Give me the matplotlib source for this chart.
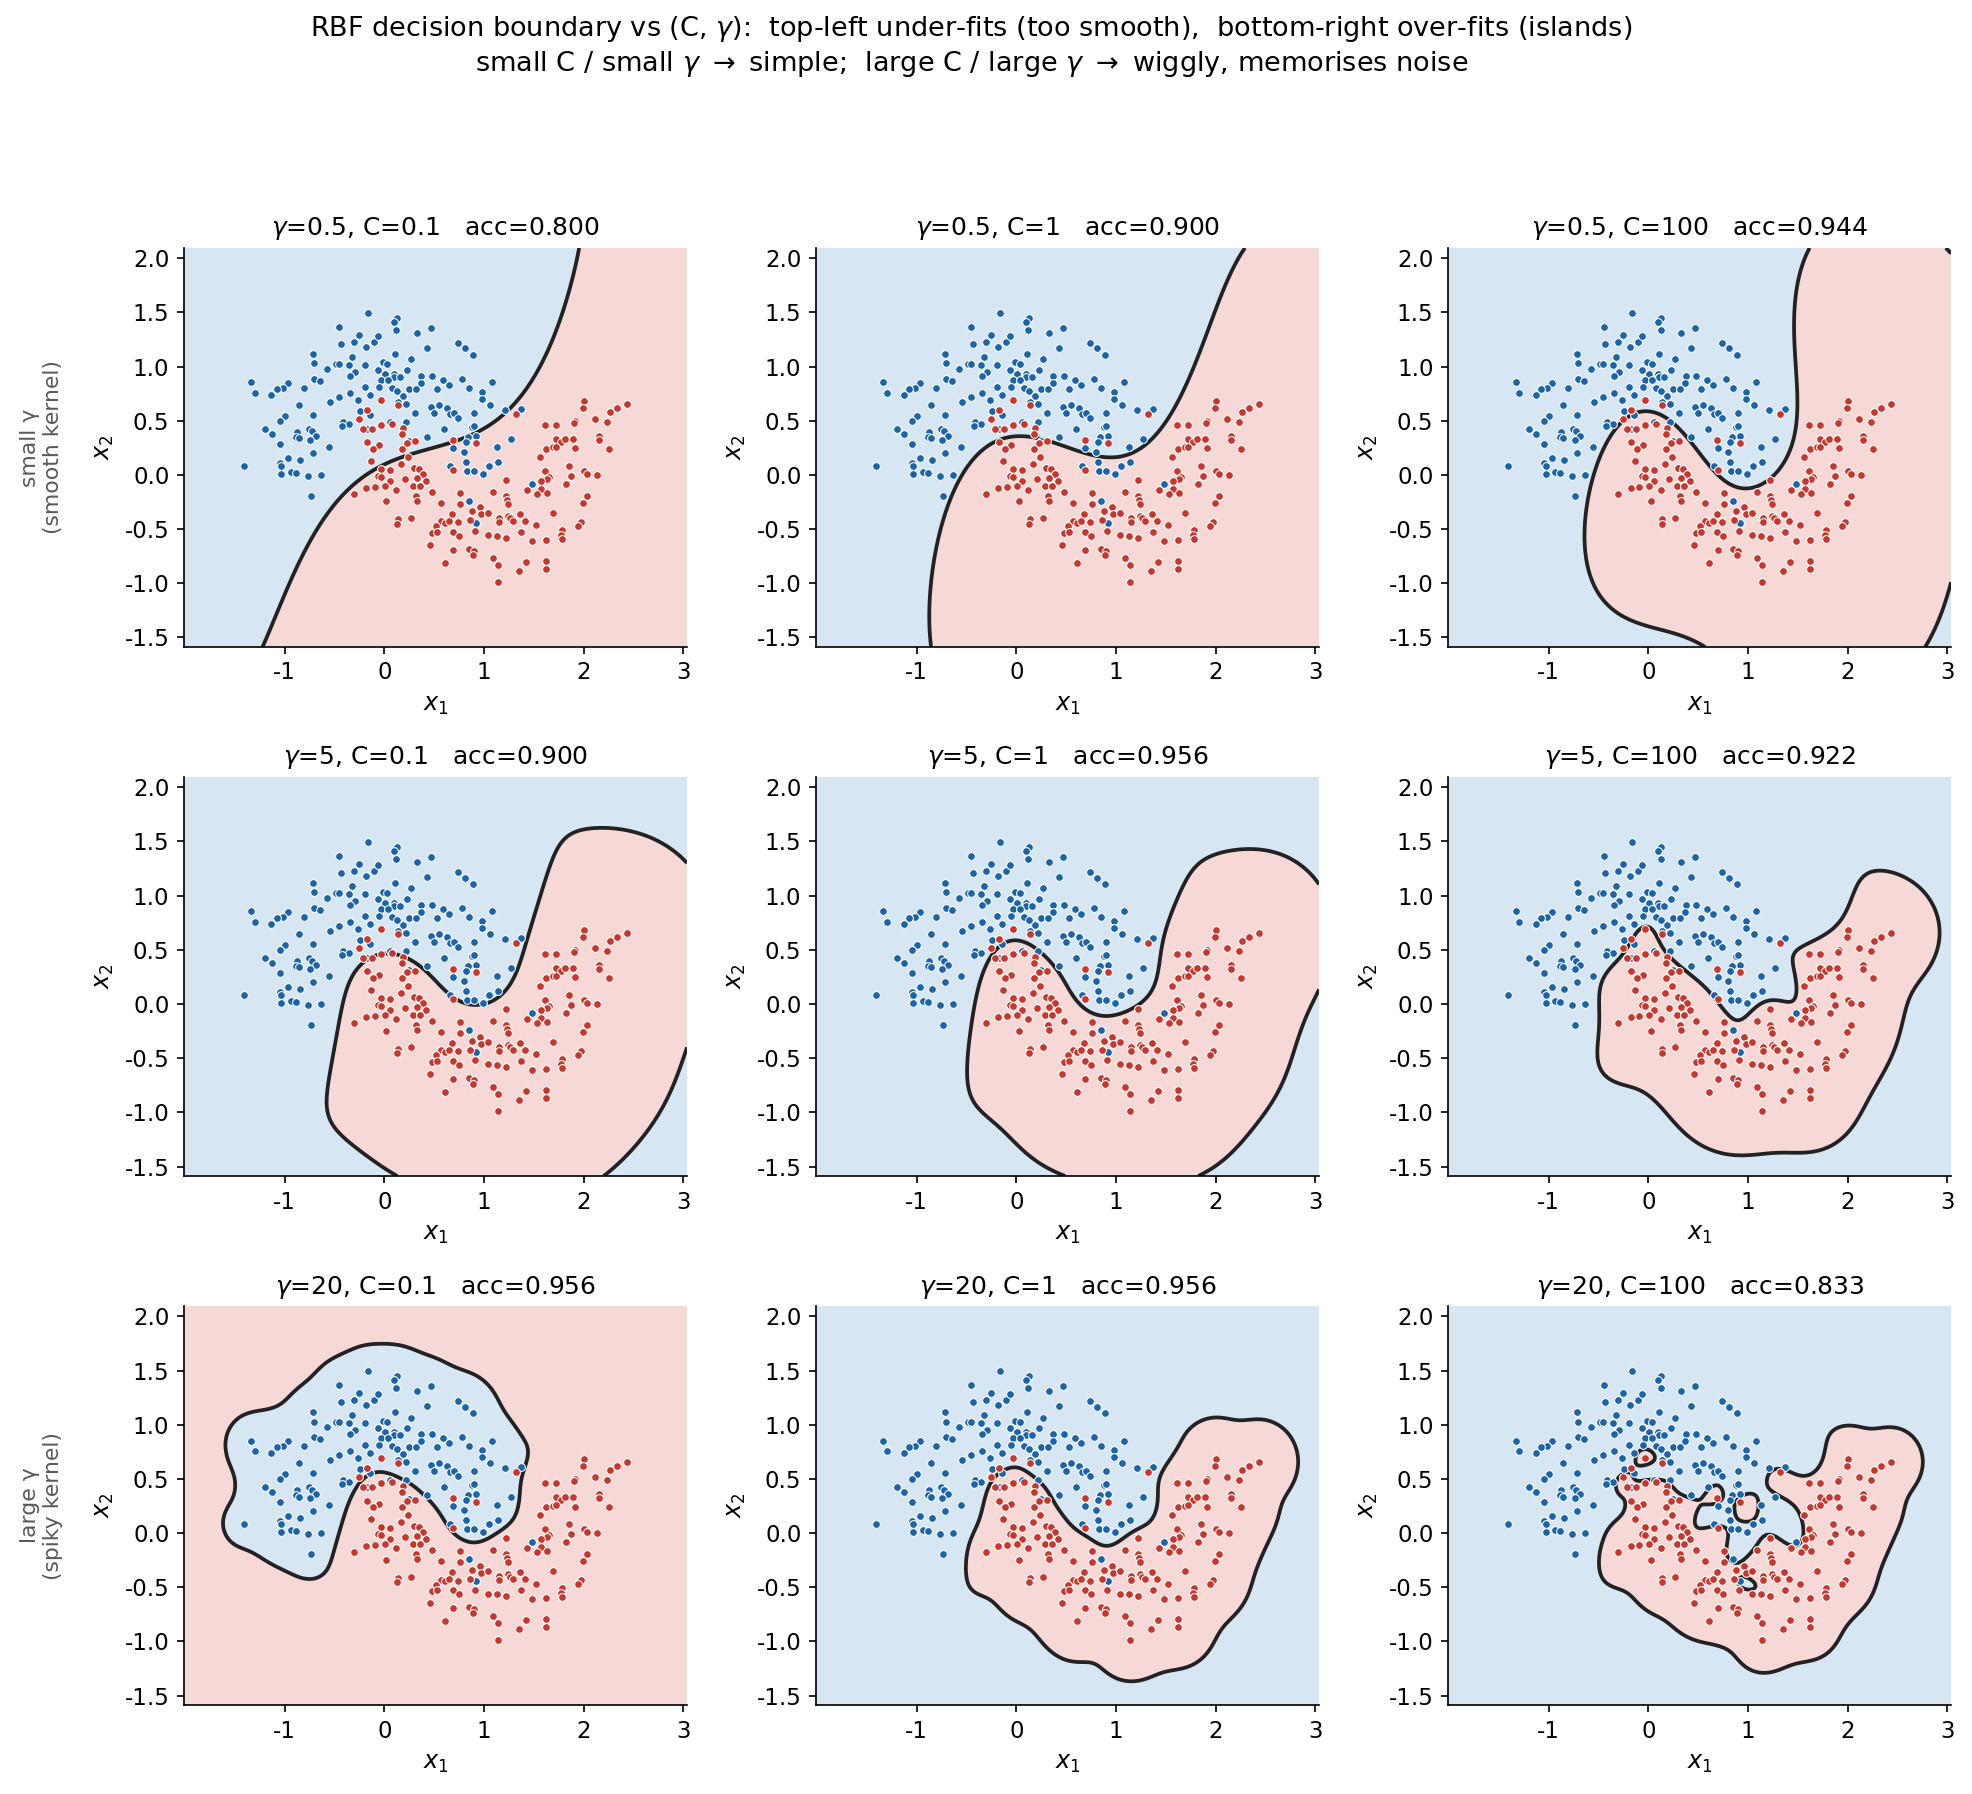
import numpy as np
import matplotlib
matplotlib.use('Agg')
import matplotlib.pyplot as plt

plt.rcParams['axes.unicode_minus'] = False

# ─────────────────────────────────────────
# DATA (two moons)
# ─────────────────────────────────────────
blue_x1 = [-0.164, -0.451, -0.251, -0.301, -0.104, -0.434, -0.187, -0.715, -0.327, -0.709,
           -0.485, -0.455, -0.351, -0.194, -0.575, -0.291, -0.341, -0.705, -0.645, -1.334,
           -0.963, -1.013, -1.080, -1.297, -0.809, -1.133, -0.194, -0.348, -0.144, -0.458,
           -0.267, -0.545, -0.859, -0.244, -0.140, -0.719, -1.000, -1.046, -0.414, -0.351,
           -0.428, -1.197, -1.130, -0.879, -0.759, -0.725, -0.889, -0.856, -0.682, -0.742,
           -1.050, -0.555, -0.177,
           0.124, 0.094, 0.121, 0.469, 0.328, -0.063, 0.736, 0.809, 0.893, 0.432,
           0.107, 0.268, -0.013, 0.031, -0.063, 0.228, 0.004, 0.094, 0.101, 0.158,
           -0.036, 0.037, 0.372, 0.482, 0.589, 0.368, 0.783, 1.077, 0.649, -0.050,
           0.077, 0.124, 0.251, 0.321, 0.525, 0.846, 0.980, 0.188, 0.977, 0.134,
           0.214, 1.064, 0.472, 0.552, 0.626, 0.499, 0.305, 0.656, 0.696, 0.736,
           0.903, 0.221, 0.883, 0.599, 0.054, 0.840, 0.923, 0.816, 0.432, 0.248,
           0.693, 1.134,
           1.211, 1.371, 1.267,
           -1.411, -1.046, -1.033, -0.969, -0.846, -0.712, -1.033, -0.939, -0.886, -0.765,
           -0.632, -0.735,
           0.803, 0.820, 0.656, 0.830, 0.903, 0.993, 1.054, 1.144, 0.853, 0.917,
           1.478, 0.896]
blue_x2 = [1.495, 1.363, 1.292, 1.231, 1.225, 1.207, 1.179, 1.115, 1.093, 1.029,
           1.026, 1.026, 1.011, 1.011, 0.980, 0.949, 0.912, 0.882, 0.867, 0.854,
           0.848, 0.805, 0.790, 0.759, 0.802, 0.741, 0.814, 0.756, 0.741, 0.719,
           0.695, 0.673, 0.649, 0.591, 0.557, 0.554, 0.548, 0.499, 0.490, 0.471,
           0.450, 0.428, 0.379, 0.398, 0.425, 0.401, 0.349, 0.337, 0.358, 0.324,
           0.284, 0.260, 0.428,
           1.449, 1.409, 1.338, 1.360, 1.314, 1.280, 1.222, 1.167, 1.105, 1.176,
           1.118, 1.066, 1.038, 1.023, 0.965, 0.971, 0.931, 0.928, 0.903, 0.906,
           0.879, 0.876, 0.912, 0.912, 0.873, 0.848, 0.882, 0.854, 0.827, 0.808,
           0.802, 0.775, 0.796, 0.793, 0.796, 0.805, 0.762, 0.732, 0.701, 0.677,
           0.658, 0.646, 0.628, 0.649, 0.618, 0.569, 0.572, 0.560, 0.575, 0.529,
           0.572, 0.493, 0.444, 0.428, 0.490, 0.352, 0.364, 0.306, 0.349, 0.312,
           0.248, 0.260,
           0.597, 0.609, 0.333,
           0.086, 0.107, 0.080, 0.156, 0.141, 0.199, 0.012, 0.031, 0.015, -0.006,
           -0.003, -0.196,
           0.214, 0.123, 0.086, 0.034, 0.040, 0.012, 0.080, 0.119, -0.239, -0.447,
           -0.083, 0.450]

red_x1 = [-0.174, -0.251, -0.217, -0.120, -0.174,
          -0.033, 0.138, -0.033, 0.074, 0.184, 0.174, -0.056, 0.228, 0.305, 0.689,
          0.916, -0.113,
          1.321, 2.003, 1.996, 2.437, 2.331, 2.264, 1.608, 1.722, 1.913, 1.899,
          2.113, 2.230, 1.722, 1.772, 1.812, 1.889, 2.157, 2.157, 1.625, 1.692,
          1.722, 1.913, 2.254,
          -0.137, -0.180, -0.097, -0.301,
          0.178, 0.238, 0.168, -0.033, 0.054, 0.298, 0.348, -0.060, -0.036, 0.385,
          0.057, 0.204, 0.325, 0.418, 0.693, 0.004, 0.121, 0.285, 0.355, 0.475,
          0.315, 0.325, 0.021, 0.763, 1.094, 0.572, 0.756, 0.957, 0.876, 0.974,
          1.037, 0.683, 0.572, 0.609, 0.649, 0.740, 0.857, 1.150, 1.150, 0.134,
          0.131, 0.265, 0.522, 0.479, 0.529, 0.686, 0.750, 0.910, 1.040, 1.134,
          0.462, 0.693, 0.850, 0.900, 0.887, 1.094, 1.137, 0.609, 1.144,
          1.565, 1.615, 1.849, 1.652, 1.635, 1.873, 2.006, 2.033, 2.130, 1.575,
          1.435, 1.575, 1.528, 1.635, 1.217, 1.819, 2.036, 1.990, 1.221, 1.227,
          1.241, 1.689, 1.358, 1.244, 1.264, 1.294, 1.411, 1.525, 1.970, 1.943,
          1.782, 1.776, 1.779, 1.371, 1.221, 1.485, 1.618, 1.421, 1.618, 1.618,
          1.354]
red_x2 = [0.597, 0.514, 0.428, 0.428, 0.300,
          0.695, 0.649, 0.459, 0.468, 0.431, 0.382, 0.272, 0.297, 0.309, 0.321,
          0.291, 0.238,
          0.563, 0.683, 0.618, 0.658, 0.615, 0.585, 0.462, 0.462, 0.499, 0.480,
          0.514, 0.490, 0.333, 0.306, 0.333, 0.333, 0.361, 0.327, 0.238, 0.254,
          0.260, 0.245, 0.238,
          0.129, -0.117, -0.107, -0.178,
          0.242, 0.168, 0.104, 0.055, 0.046, 0.067, 0.055, -0.006, -0.021, 0.009,
          -0.052, -0.034, -0.025, -0.058, 0.043, -0.101, -0.141, -0.098, -0.098, -0.156,
          -0.190, -0.236, -0.245, -0.166, -0.153, -0.260, -0.264, -0.300, -0.337, -0.365,
          -0.349, -0.358, -0.429, -0.447, -0.423, -0.438, -0.420, -0.398, -0.435, -0.411,
          -0.454, -0.401, -0.475, -0.536, -0.530, -0.530, -0.564, -0.521, -0.558, -0.561,
          -0.647, -0.696, -0.683, -0.699, -0.738, -0.769, -0.833, -0.812, -0.987,
          0.162, 0.040, 0.083, -0.021, -0.037, -0.006, 0.034, 0.009, -0.003, -0.052,
          -0.141, -0.132, -0.172, -0.162, -0.049, -0.083, -0.190, -0.257, -0.193, -0.230,
          -0.270, -0.349, -0.356, -0.380, -0.401, -0.423, -0.423, -0.466, -0.435, -0.469,
          -0.506, -0.552, -0.588, -0.530, -0.582, -0.613, -0.601, -0.803, -0.797, -0.864,
          -0.889]

gammas = [0.5, 5, 20]
Cs = [0.1, 1, 100]
gamma_labels = ['0.5', '5', '20']
C_labels = ['0.1', '1', '100']
accs = [['0.800', '0.900', '0.944'],
        ['0.900', '0.956', '0.922'],
        ['0.956', '0.956', '0.833']]
row_notes = {0: 'small γ\n(smooth kernel)', 2: 'large γ\n(spiky kernel)'}

BLUE_PT, RED_PT = '#1a64aa', '#c8372d'
BLUE_BG, RED_BG = '#d6e6f2', '#f6d9d6'


def rbf(A, B, gamma):
    d2 = (A**2).sum(1)[:, None] + (B**2).sum(1)[None, :] - 2 * A @ B.T
    return np.exp(-gamma * np.maximum(d2, 0))


def fit_svc(X, y, C, gamma, tol=1e-3, max_iter=100000):
    """Plain SMO (second-order working set selection), like libsvm."""
    K = rbf(X, X, gamma)
    Q = (y[:, None] * y[None, :]) * K
    QD = np.diag(Q).copy()
    a = np.zeros(len(y))
    G = -np.ones(len(y))
    for _ in range(max_iter):
        yG = -y * G
        up = ((y > 0) & (a < C)) | ((y < 0) & (a > 0))
        low = ((y > 0) & (a > 0)) | ((y < 0) & (a < C))
        iu = np.where(up)[0]
        i = iu[np.argmax(yG[iu])]
        gmax = yG[i]
        if gmax - yG[low].min() < tol:
            break
        cand = np.where(low & (yG < gmax))[0]
        b = gmax - yG[cand]
        aa = QD[i] + QD[cand] - 2 * y[i] * y[cand] * Q[i, cand]
        aa = np.where(aa > 1e-12, aa, 1e-12)
        j = cand[np.argmax(b * b / aa)]
        t = (gmax - yG[j]) / max(QD[i] + QD[j] - 2 * K[i, j], 1e-12)
        t = min(t, C - a[i] if y[i] > 0 else a[i])
        t = min(t, a[j] if y[j] > 0 else C - a[j])
        a[i] += y[i] * t
        a[j] -= y[j] * t
        G += Q[:, i] * (y[i] * t) - Q[:, j] * (y[j] * t)
    yG = y * G
    free = (a > 1e-9) & (a < C - 1e-9)
    if free.any():
        rho = yG[free].mean()
    else:
        at_up = a >= C - 1e-9
        ub_mask = (at_up & (y < 0)) | (~at_up & (y > 0))
        rho = (yG[ub_mask].min() + yG[~ub_mask].max()) / 2
    return a * y, rho


X = np.column_stack([blue_x1 + red_x1, blue_x2 + red_x2])
y = np.array([-1.0] * len(blue_x1) + [1.0] * len(red_x1))

x_min, x_max = X[:, 0].min() - 0.6, X[:, 0].max() + 0.6
y_min, y_max = X[:, 1].min() - 0.6, X[:, 1].max() + 0.6
gx, gy = np.meshgrid(np.linspace(x_min, x_max, 300), np.linspace(y_min, y_max, 300))
grid = np.column_stack([gx.ravel(), gy.ravel()])

# ─────────────────────────────────────────
# PLOT
# ─────────────────────────────────────────
fig = plt.figure(figsize=(1972 / 150, 1794 / 150), dpi=150)
lefts = [0.0933, 0.4138, 0.7343]
bottoms = [0.6394, 0.3445, 0.0496]
w, h = 0.2551, 0.2224

for r, g in enumerate(gammas):
    for c, C in enumerate(Cs):
        ax = fig.add_axes([lefts[c], bottoms[r], w, h])
        coef, rho = fit_svc(X, y, C, g)
        Z = (rbf(grid, X, g) @ coef - rho).reshape(gx.shape)
        ax.contourf(gx, gy, Z, levels=[-1e9, 0, 1e9], colors=[BLUE_BG, RED_BG])
        ax.contour(gx, gy, Z, levels=[0], colors='#222222', linewidths=1.8)
        ax.scatter(blue_x1, blue_x2, s=14, c=BLUE_PT, edgecolors='white', linewidths=0.5, zorder=3)
        ax.scatter(red_x1, red_x2, s=14, c=RED_PT, edgecolors='white', linewidths=0.5, zorder=3)
        ax.set_xlim(x_min, x_max)
        ax.set_ylim(y_min, y_max)
        ax.set_xticks([-1, 0, 1, 2, 3])
        ax.set_yticks([-1.5, -1.0, -0.5, 0.0, 0.5, 1.0, 1.5, 2.0])
        ax.tick_params(labelsize=11)
        ax.spines[['top', 'right']].set_visible(False)
        ax.set_xlabel('$x_1$', fontsize=11.5)
        ax.set_ylabel('$x_2$', fontsize=11.5)
        ax.set_title(f'$\\gamma$={gamma_labels[r]}, C={C_labels[c]}   acc={accs[r][c]}',
                     fontsize=12)
    if r in row_notes:
        fig.text(0.021, bottoms[r] + h / 2, row_notes[r], rotation=90, ha='center',
                 va='center', color='0.35', fontsize=10.5)

fig.text(0.4925, 0.992,
         'RBF decision boundary vs (C, $\\gamma$):  top-left under-fits (too smooth),  '
         'bottom-right over-fits (islands)\n'
         'small C / small $\\gamma$ $\\rightarrow$ simple;  large C / large $\\gamma$ '
         '$\\rightarrow$ wiggly, memorises noise',
         ha='center', va='top', fontsize=13)

plt.savefig('out.png', dpi=150)
